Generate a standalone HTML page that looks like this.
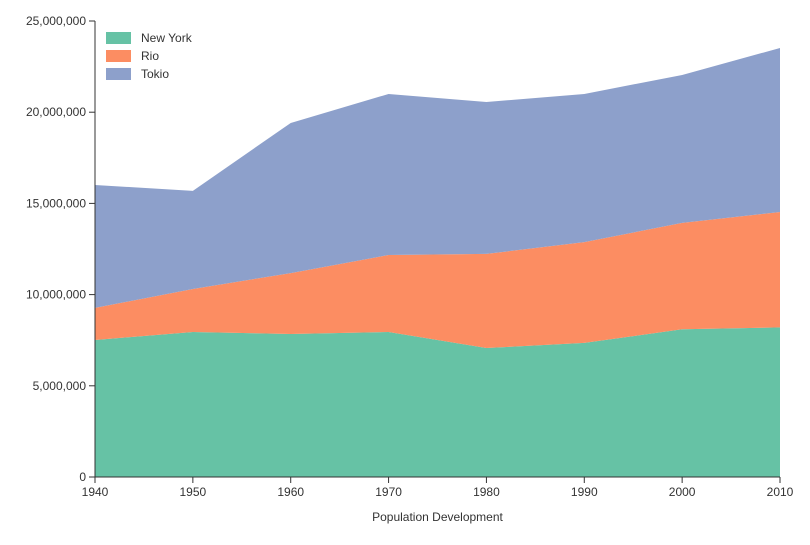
<!DOCTYPE html>
<html><head><meta charset="utf-8"><style>
body{margin:0;background:#fff;}
svg text{font-family:"Liberation Sans",sans-serif;font-size:12px;fill:#333;}
</style></head><body>
<svg id="chart" width="810" height="540"></svg>
<script>
const years=[1940,1950,1960,1970,1980,1990,2000,2010];
const newYork=[7.51,7.95,7.84,7.95,7.07,7.35,8.10,8.20];
const rio=[1.76,2.36,3.34,4.22,5.16,5.53,5.83,6.33];
const tokio=[6.74,5.38,8.23,8.83,8.33,8.12,8.11,8.99];
const seriesNames=["New York","Rio","Tokio"];
const colors=["#66c2a5","#fc8d62","#8da0cb"];
const yTicks=[0,5,10,15,20,25];
const yTickLabels=["0","5,000,000","10,000,000","15,000,000","20,000,000","25,000,000"];

const NS="http://www.w3.org/2000/svg";
const svg=document.getElementById('chart');
const x0=95,x1=780,yb=477,yt=21;
const xs=v=>x0+(v-years[0])/(years[years.length-1]-years[0])*(x1-x0);
const ys=v=>yb-v/25*(yb-yt);
function mk(t,a){const e=document.createElementNS(NS,t);for(const k in a)e.setAttribute(k,a[k]);svg.appendChild(e);return e;}
const series=[newYork,rio,tokio];
let base=years.map(()=>0);
series.forEach((s,i)=>{
  const top=base.map((b,j)=>b+s[j]);
  let d="M"+years.map((y,j)=>xs(y)+","+ys(top[j])).join("L");
  for(let j=years.length-1;j>=0;j--)d+="L"+xs(years[j])+","+ys(base[j]);
  const p=mk('path',{d:d+"Z",fill:colors[i]});
  
  
  base=top;
});
const ax=mk('line',{x1:x0,y1:yb,x2:x1,y2:yb,stroke:'#333'});


const ay=mk('line',{x1:x0,y1:yb,x2:x0,y2:yt,stroke:'#333'});


years.forEach(y=>{
  mk('line',{x1:xs(y),y1:yb,x2:xs(y),y2:yb+6,stroke:'#333'});
  const t=mk('text',{x:xs(y),y:yb+19,'text-anchor':'middle'});t.textContent=y;
  
  
});
yTicks.forEach((v,i)=>{
  mk('line',{x1:x0-6,y1:ys(v),x2:x0,y2:ys(v),stroke:'#333'});
  const t=mk('text',{x:x0-9,y:ys(v)+4,'text-anchor':'end'});t.textContent=yTickLabels[i];
  
  
});
const xt=mk('text',{x:(x0+x1)/2,y:521,'text-anchor':'middle','font-size':'14'});xt.textContent="Population Development";


seriesNames.forEach((n,i)=>{
  const r=mk('rect',{x:106,y:32+i*18,width:25,height:12,fill:colors[i]});
  
  
  const t=mk('text',{x:141,y:42+i*18});t.textContent=n;
  
  
});
</script>
</body></html>
